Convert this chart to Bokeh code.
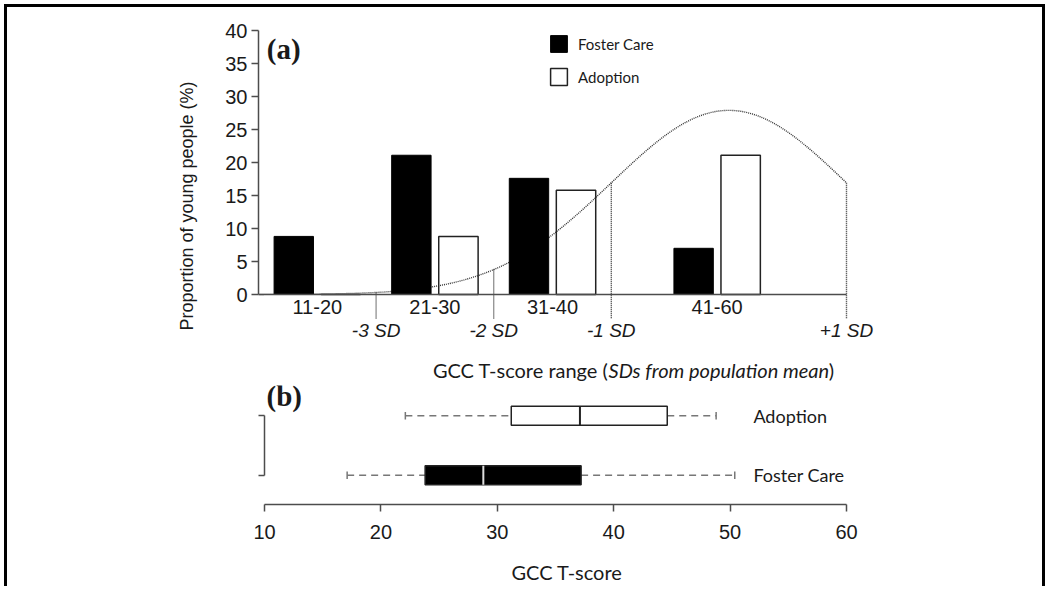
import numpy as np
from bokeh.plotting import figure
from bokeh.layouts import column
from bokeh.models import ColumnDataSource, FixedTicker, Legend, LegendItem, Label, Range1d
from bokeh.transform import dodge
from bokeh.core.properties import value
from bokeh.embed import file_html
from bokeh.resources import INLINE

# ---------------- data ----------------
categories = ["11-20", "21-30", "31-40", "41-60"]
category_centers = [15, 25, 35, 49]
foster_care = [8.8, 21.1, 17.6, 7.0]
adoption = [0.0, 8.8, 15.8, 21.1]

sd_labels = ["-3 SD", "-2 SD", "-1 SD", "+1 SD"]
sd_scores = [20, 30, 40, 60]
pop_mean = 50
pop_sd = 10
curve_peak = 27.9

y_ticks = [0, 5, 10, 15, 20, 25, 30, 35, 40]

box_groups = ["Foster Care", "Adoption"]
box_pos = [1, 2]
box_low = [17.1, 22.1]
box_q1 = [23.8, 31.2]
box_median = [28.8, 37.1]
box_q3 = [37.2, 44.6]
box_high = [50.4, 48.8]
score_ticks = [10, 20, 30, 40, 50, 60]

TXT = "#1a1a1a"
AX = "#4d4d4d"
W = 1035
LEFT = 251
FRAME_W = 617
RIGHT = W - LEFT - FRAME_W

# ---------------- panel (a) ----------------
pa = figure(width=W, height=374, x_range=Range1d(10, 10 + FRAME_W / 11.76),
            y_range=Range1d(40 - 351 / 6.6, 40),
            output_backend="svg", toolbar_location=None,
            min_border_left=LEFT, min_border_right=RIGHT, min_border_top=23, min_border_bottom=0)
pa.grid.visible = False
pa.outline_line_color = None

pa.yaxis.bounds = (0, 40)
pa.yaxis.ticker = FixedTicker(ticks=y_ticks)
pa.yaxis.minor_tick_line_color = None
pa.yaxis.major_tick_in = 0
pa.yaxis.major_tick_out = 7
pa.yaxis.axis_line_color = AX
pa.yaxis.axis_line_width = 1.5
pa.yaxis.major_tick_line_color = AX
pa.yaxis.major_tick_line_width = 1.5
pa.yaxis.major_label_text_font = "Liberation Sans"
pa.yaxis.major_label_text_font_size = "20px"
pa.yaxis.major_label_text_color = TXT
pa.yaxis.major_label_standoff = 4
pa.yaxis.axis_label = "Proportion of young people (%)"
pa.yaxis.axis_label_text_font = "Liberation Sans"
pa.yaxis.axis_label_text_font_size = "18px"
pa.yaxis.axis_label_text_font_style = "normal"
pa.yaxis.axis_label_text_color = TXT
pa.yaxis.axis_label_standoff = 25

pa.xaxis.fixed_location = 0
pa.xaxis.bounds = (10, 60)
pa.xaxis.ticker = FixedTicker(ticks=category_centers)
pa.xaxis.major_label_overrides = {c: lab for c, lab in zip(category_centers, categories)}
pa.xaxis.major_tick_line_color = None
pa.xaxis.minor_tick_line_color = None
pa.xaxis.major_tick_out = 0
pa.xaxis.major_tick_in = 0
pa.xaxis.axis_line_color = AX
pa.xaxis.axis_line_width = 1.5
pa.xaxis.major_label_text_font = "Liberation Sans"
pa.xaxis.major_label_text_font_size = "20px"
pa.xaxis.major_label_text_color = TXT
pa.xaxis.major_label_standoff = 5

# normal reference curve
tx = np.linspace(10, 60, 401)
ty = curve_peak * np.exp(-0.5 * ((tx - pop_mean) / pop_sd) ** 2)
pa.line(tx, ty, line_color="#333333", line_width=1.4, line_dash="1 1")

sd_top = [curve_peak * np.exp(-0.5 * ((s - pop_mean) / pop_sd) ** 2) for s in sd_scores]
pa.segment(x0=sd_scores, x1=sd_scores, y0=sd_top, y1=[-3.7] * len(sd_scores),
           line_color="#333333", line_width=1.4, line_dash="1 1")
pa.text(x=sd_scores, y=[-5.5] * len(sd_scores), text=sd_labels,
        text_font=value("Liberation Sans"), text_font_style="italic", text_font_size="19px",
        text_color=TXT, text_align="center", text_baseline="middle")

src = ColumnDataSource(dict(center=category_centers, foster=foster_care, adoption=adoption))
r_f = pa.vbar(x=dodge("center", -2.0, range=pa.x_range), top="foster", bottom=0, width=3.35,
              source=src, fill_color="black", line_color="black", line_width=1)
r_a = pa.vbar(x=dodge("center", 2.0, range=pa.x_range), top="adoption", bottom=0, width=3.35,
              source=src, fill_color=None, line_color="#222222", line_width=1.5)

# x title with italic part
title_font = value("Lato")
ty_title = -11.5
pa.text(x=[39.76], y=[ty_title], text=["GCC T-score range ("], text_font=title_font,
        text_font_size="20px", text_color=TXT, text_align="right", text_baseline="middle")
pa.text(x=[39.76], y=[ty_title], text=["SDs from population mean"], text_font=title_font,
        text_font_style="italic", text_font_size="20px", text_color=TXT,
        text_align="left", text_baseline="middle")
pa.text(x=[58.5], y=[ty_title], text=[")"], text_font=title_font,
        text_font_size="20px", text_color=TXT, text_align="left", text_baseline="middle")

legend = Legend(items=[LegendItem(label="Foster Care", renderers=[r_f]),
                       LegendItem(label="Adoption", renderers=[r_a])],
                location=(290, 294), orientation="vertical",
                glyph_width=21, glyph_height=21, spacing=12, padding=0, margin=0,
                label_standoff=9, border_line_color=None, background_fill_alpha=0,
                label_text_font="Lato", label_text_font_size="15px", label_text_color=TXT)
pa.add_layout(legend)

pa.add_layout(Label(x=10.7, y=37.27, text="(a)", text_font="Liberation Serif",
                    text_font_style="bold", text_font_size="29px", text_color=TXT,
                    text_baseline="middle"))

# ---------------- panel (b) ----------------
b_start = 10 - 6 / 11.64
pb = figure(width=W, height=205, x_range=Range1d(b_start, b_start + FRAME_W / 11.64),
            y_range=Range1d(0.5083, 2.5083),
            output_backend="svg", toolbar_location=None,
            min_border_left=LEFT, min_border_right=RIGHT, min_border_top=4, min_border_bottom=81)
pb.grid.visible = False
pb.outline_line_color = None

pb.yaxis.fixed_location = 10
pb.yaxis.ticker = FixedTicker(ticks=box_pos)
pb.yaxis.bounds = (1, 2)
pb.yaxis.major_label_overrides = {1: "", 2: ""}
pb.yaxis.major_label_standoff = 0
pb.yaxis.minor_tick_line_color = None
pb.yaxis.major_tick_in = 0
pb.yaxis.major_tick_out = 9
pb.yaxis.axis_line_color = AX
pb.yaxis.axis_line_width = 1.5
pb.yaxis.major_tick_line_color = AX
pb.yaxis.major_tick_line_width = 1.5

pb.xaxis.ticker = FixedTicker(ticks=score_ticks)
pb.xaxis.bounds = (10, 60)
pb.xaxis.minor_tick_line_color = None
pb.xaxis.major_tick_in = 0
pb.xaxis.major_tick_out = 7
pb.xaxis.axis_line_color = AX
pb.xaxis.axis_line_width = 1.5
pb.xaxis.major_tick_line_color = AX
pb.xaxis.major_tick_line_width = 1.5
pb.xaxis.major_label_text_font = "Liberation Sans"
pb.xaxis.major_label_text_font_size = "20px"
pb.xaxis.major_label_text_color = TXT
pb.xaxis.major_label_standoff = 13
pb.xaxis.axis_label = "GCC T-score"
pb.xaxis.axis_label_text_font = "Lato"
pb.xaxis.axis_label_text_font_size = "20px"
pb.xaxis.axis_label_text_font_style = "normal"
pb.xaxis.axis_label_text_color = TXT
pb.xaxis.axis_label_standoff = 18

half_box = 0.16
half_cap = 0.065
bsrc = ColumnDataSource(dict(
    pos=box_pos, low=box_low, q1=box_q1, med=box_median, q3=box_q3, high=box_high,
    fill=["black", "white"], mcol=["#dddddd", "#222222"],
    b0=[p - half_box for p in box_pos], b1=[p + half_box for p in box_pos],
    c0=[p - half_cap for p in box_pos], c1=[p + half_cap for p in box_pos],
))
wh = dict(source=bsrc, line_color="#777777", line_width=1.5)
pb.segment(x0="low", x1="q1", y0="pos", y1="pos", line_dash="7 5", **wh)
pb.segment(x0="q3", x1="high", y0="pos", y1="pos", line_dash="7 5", **wh)
pb.segment(x0="low", x1="low", y0="c0", y1="c1", **wh)
pb.segment(x0="high", x1="high", y0="c0", y1="c1", **wh)
pb.hbar(y="pos", left="q1", right="q3", height=2 * half_box, source=bsrc,
        fill_color="fill", line_color="#222222", line_width=1.5)
pb.segment(x0="med", x1="med", y0="b0", y1="b1", source=bsrc, line_color="mcol", line_width=2)

pb.text(x=[52.0] * len(box_pos), y=box_pos, text=box_groups, text_font=value("Lato"),
        text_font_size="18px", text_color=TXT, text_align="left", text_baseline="middle")

pb.add_layout(Label(x=10.17, y=2.34, text="(b)", text_font="Liberation Serif",
                    text_font_style="bold", text_font_size="29px", text_color=TXT,
                    text_baseline="middle"))

layout = column(pa, pb, spacing=0,
                styles={"border-top": "3px solid black", "border-left": "3px solid black",
                        "border-right": "3px solid black",
                        "margin-left": "4px", "margin-top": "4px"})

open("out.html", "w").write(file_html(layout, INLINE))
